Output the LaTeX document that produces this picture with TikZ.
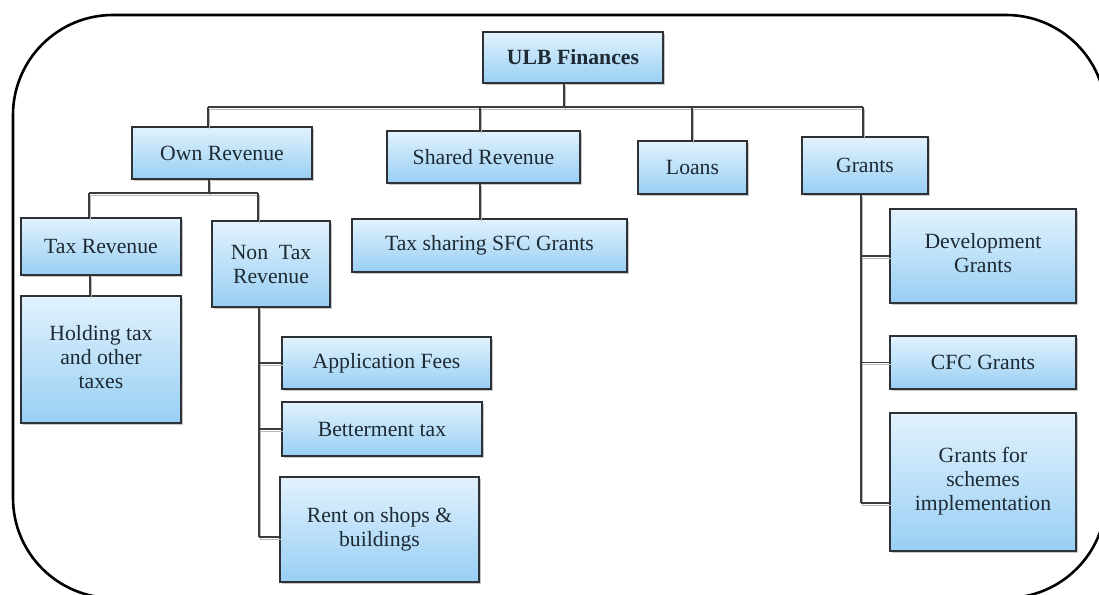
\documentclass[tikz,border=0pt]{standalone}
\usepackage{fontspec}
\setmainfont{Liberation Serif}
\usetikzlibrary{shadows}
\definecolor{boxtop}{HTML}{E2F2FD}
\definecolor{boxbot}{HTML}{98CFF4}
\definecolor{edge}{HTML}{2E3236}
\definecolor{linec}{HTML}{3A3D40}
\definecolor{txt}{HTML}{1E2A33}
\tikzset{
  x=1pt, y=-1pt,
  box/.style={draw=edge, line width=1.3pt, top color=boxtop, bottom color=boxbot,
    drop shadow={shadow xshift=2pt, shadow yshift=-2pt, fill=gray!60, opacity=0.7},
    inner sep=0pt, align=center, font=\fontsize{21.7}{24}\selectfont, text=txt},
  conn/.style={draw=linec, line width=1.4pt},
  connsh/.style={draw=gray!55, line width=1.2pt, transform canvas={shift={(1.2pt,-2.2pt)}}},
}
\newcommand\link[1]{\draw[connsh] #1; \draw[conn] #1;}
\begin{document}
\begin{tikzpicture}
\useasboundingbox (0,0) rectangle (1099,594);
\clip (0,0) rectangle (1099,594);
\fill[white] (0,0) rectangle (1099,594);
\draw[line width=2.6pt, black, rounded corners=100pt] (13,15) rectangle (1106,598);

% nodes
\node[box, minimum width=180pt, minimum height=51pt, font=\fontsize{21.7}{24}\selectfont\bfseries] (ulb) at (573,57.5) {ULB Finances};
\node[box, minimum width=180pt, minimum height=52pt] (own) at (222,153) {Own Revenue};
\node[box, minimum width=193pt, minimum height=52pt] (shared) at (483.5,157) {Shared Revenue};
\node[box, minimum width=109pt, minimum height=53pt] (loans) at (692.5,167.5) {Loans};
\node[box, minimum width=126pt, minimum height=57pt] (grants) at (865,165.5) {Grants};
\node[box, minimum width=160pt, minimum height=57pt] (taxrev) at (101,246.5) {Tax Revenue};
\node[box, minimum width=118pt, minimum height=86pt] (nontax) at (271,264) {Non\ \ Tax\\Revenue};
\node[box, minimum width=160pt, minimum height=127pt] (holding) at (101,359.5) {\raisebox{7pt}{\begin{tabular}{@{}c@{}}Holding tax\\and other\\taxes\end{tabular}}};
\node[box, minimum width=275pt, minimum height=53pt] (taxshare) at (489.5,245.5) {\raisebox{-3pt}{Tax sharing SFC Grants}};
\node[box, minimum width=209pt, minimum height=52pt] (appfee) at (386.5,363) {Application Fees};
\node[box, minimum width=200pt, minimum height=54pt] (better) at (382,429) {Betterment tax};
\node[box, minimum width=199pt, minimum height=105pt] (rent) at (379.5,529.5) {\raisebox{9pt}{\begin{tabular}{@{}c@{}}Rent on shops \&\\buildings\end{tabular}}};
\node[box, minimum width=186pt, minimum height=94pt] (dev) at (983,256) {\raisebox{4pt}{\begin{tabular}{@{}c@{}}Development\\Grants\end{tabular}}};
\node[box, minimum width=186pt, minimum height=53pt] (cfc) at (983,362.5) {CFC Grants};
\node[box, minimum width=186pt, minimum height=138pt] (schemes) at (983,482) {\raisebox{13pt}{\begin{tabular}{@{}c@{}}Grants for\\schemes\\implementation\end{tabular}}};

% bus coordinates
\coordinate (t0) at (564,107);
\coordinate (bA) at (208,107);
\coordinate (bB) at (480,107);
\coordinate (bC) at (692,107);
\coordinate (bE) at (863,107);
\coordinate (oA) at (209,193);
\coordinate (oL) at (89,193);
\coordinate (oR) at (258,193);
\coordinate (nS) at (259,537);
\coordinate (gS) at (861,503);

% connectors
\link{(ulb.south -| t0) -- (t0)}
\link{(bA) -- (bE)}
\link{(bA) -- (bA |- own.north)}
\link{(bB) -- (bB |- shared.north)}
\link{(bC) -- (bC |- loans.north)}
\link{(bE) -- (bE |- grants.north)}
\link{(own.south -| oA) -- (oA)}
\link{(oL) -- (oR)}
\link{(oL) -- (oL |- taxrev.north)}
\link{(oR) -- (oR |- nontax.north)}
\link{(taxrev.south -| 90,0) -- (holding.north -| 90,0)}
\link{(shared.south -| 480,0) -- (taxshare.north -| 480,0)}
\link{(nontax.south -| nS) -- (nS)}
\link{(nS |- appfee.west) -- (appfee.west)}
\link{(nS |- better.west) -- (better.west)}
\link{(nS) -- (nS -| rent.west)}
\link{(grants.south -| gS) -- (gS)}
\link{(gS |- dev.west) -- (dev.west)}
\link{(gS |- cfc.west) -- (cfc.west)}
\link{(gS) -- (gS -| schemes.west)}
\end{tikzpicture}
\end{document}
